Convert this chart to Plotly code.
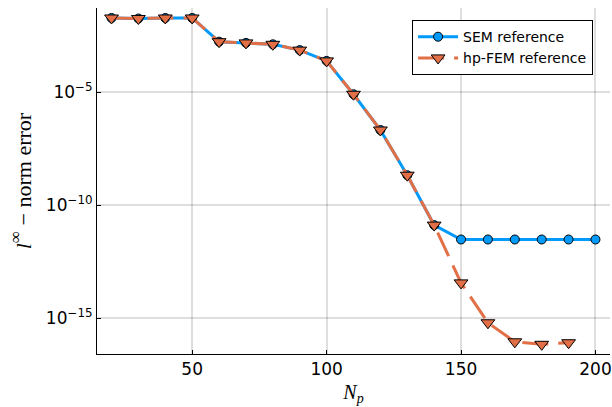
import plotly.graph_objects as go

Np = [20, 30, 40, 50, 60, 70, 80, 90, 100, 110, 120, 130, 140, 150, 160, 170, 180, 190, 200]
sem_err = [1.9e-2, 1.8e-2, 1.9e-2, 1.9e-2, 1.7e-3, 1.5e-3, 1.3e-3, 7.2e-4, 2.4e-4,
           8.0e-6, 2.1e-7, 2.1e-9, 1.3e-11, 3.0e-12, 3.0e-12, 3.0e-12, 3.0e-12, 3.0e-12, 3.0e-12]
Np_fem = [20, 30, 40, 50, 60, 70, 80, 90, 100, 110, 120, 130, 140, 150, 160, 170, 180, 190]
fem_err = [1.9e-2, 1.8e-2, 1.9e-2, 1.9e-2, 1.7e-3, 1.5e-3, 1.3e-3, 7.2e-4, 2.4e-4,
           8.0e-6, 2.1e-7, 2.1e-9, 1.3e-11, 3.6e-14, 6.2e-16, 8.9e-17, 6.9e-17, 8.1e-17]
ytick_vals = [1e-15, 1e-10, 1e-5]
ytick_text = ["10<sup>−15</sup>", "10<sup>−10</sup>", "10<sup>−5</sup>"]
xtick_vals = [50, 100, 150, 200]

fig = go.Figure()
fig.add_trace(go.Scatter(
    x=Np, y=sem_err, mode="lines+markers", name="SEM reference",
    line=dict(color="#009AFA", width=3),
    marker=dict(symbol="circle", size=9, color="#009AFA", line=dict(color="black", width=1)),
))
fig.add_trace(go.Scatter(
    x=Np_fem, y=fem_err, mode="lines+markers", name="hp-FEM reference",
    line=dict(color="#E26F46", width=3, dash="26px,10px"),
    marker=dict(symbol="triangle-down", size=12, color="#E26F46", line=dict(color="black", width=1)),
))

grid = "rgba(0,0,0,0.13)"
fig.update_layout(
    width=612, height=407,
    margin=dict(l=97, r=0, t=8, b=53),
    paper_bgcolor="white", plot_bgcolor="white",
    font=dict(family="DejaVu Sans", color="black"),
    showlegend=True,
    legend=dict(
        x=0.967, y=0.965, xanchor="right", yanchor="top",
        bordercolor="black", borderwidth=1, bgcolor="white",
        font=dict(size=14, family="DejaVu Sans"),
        itemwidth=40, tracegroupgap=0,
    ),
    xaxis=dict(
        range=[14.6, 205.4], tickvals=xtick_vals,
        showgrid=True, gridcolor=grid, gridwidth=1.5,
        showline=True, linecolor="black", linewidth=1, mirror=False,
        ticks="inside", ticklen=4, tickcolor="black",
        tickfont=dict(size=17, family="DejaVu Sans"),
        ticklabeloverflow="allow",
        zeroline=False,
        title=dict(text="<i>N</i><sub><i>p</i></sub>",
                   font=dict(size=20, family="Liberation Serif"), standoff=6),
    ),
    yaxis=dict(
        type="log", range=[-16.59, -1.28],
        tickvals=ytick_vals, ticktext=ytick_text,
        showgrid=True, gridcolor=grid, gridwidth=1.5,
        showline=True, linecolor="black", linewidth=1, mirror=False,
        ticks="inside", ticklen=4, tickcolor="black",
        tickfont=dict(size=17, family="DejaVu Sans"),
        zeroline=False,
        title=dict(text="<i>l</i><sup><span style='font-size:17px'>∞</span></sup> − norm error",
                   font=dict(size=22, family="Liberation Serif"), standoff=8),
    ),
)

fig.write_html("out.html")
